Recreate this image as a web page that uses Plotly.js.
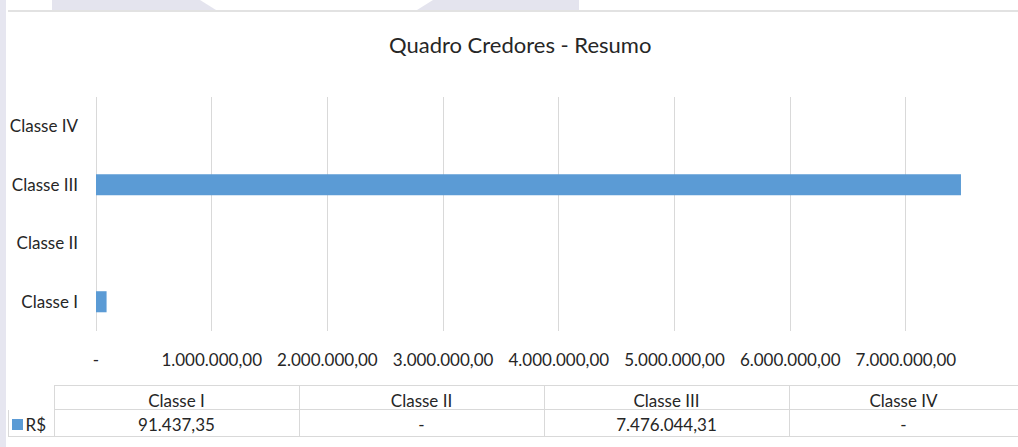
<!DOCTYPE html>
<html>
<head>
<meta charset="utf-8">
<script src="https://cdn.plot.ly/plotly-3.0.1.min.js"></script>
<style>
  body { margin: 0; background: #ffffff; }
  #plot { width: 1018px; height: 447px; }
</style>
</head>
<body>
<div id="plot"></div>
<script>
// Chart data
var categories = ["Classe I", "Classe II", "Classe III", "Classe IV"];
var values = [91437.35, 0, 7476044.31, 0];
var tickValues = [0, 1000000, 2000000, 3000000, 4000000, 5000000, 6000000, 7000000];
var seriesName = "R$";

var barColor = "#5b9bd5";
var textColor = "#262626";
var gridColor = "#d9d9d9";
var fontFamily = "Lato, 'Open Sans', sans-serif";

// Excel style accounting format: 1.234,56 and "-" for zero
function fmt(v) {
    if (v === 0) return "-";
    var parts = v.toFixed(2).split(".");
    var intPart = parts[0].replace(/\B(?=(\d{3})+(?!\d))/g, ".");
    return intPart + "," + parts[1];
}

// page pixels -> paper coords (margins l=8, t=97, b=9)
var ML = 8, MT = 97, PW = 1010, PH = 341;
function px(x) { return (x - ML) / PW; }
function py(y) { return 1 - (y - MT) / PH; }

// Bar trace
var trace1 = {
    type: "bar",
    orientation: "h",
    x: values,
    y: categories,
    name: seriesName,
    marker: { color: barColor },
    hoverinfo: "skip",
    showlegend: false
};

// Data table under the chart
var headerValues = [""].concat(categories);
var cellValues = [[seriesName]];
values.forEach(function (v) { cellValues.push([fmt(v)]); });

var trace2 = {
    type: "table",
    domain: { x: [0, 1], y: [0, 0.1525] },
    columnwidth: [46, 245, 245, 245, 229],
    header: {
        values: headerValues,
        height: 24,
        align: "center",
        fill: { color: "#ffffff" },
        line: { color: gridColor, width: [0, 1, 1, 1, 1] },
        font: { family: fontFamily, size: 17, color: textColor }
    },
    cells: {
        values: cellValues,
        height: 27,
        align: ["right", "center", "center", "center", "center"],
        fill: { color: "#ffffff" },
        line: { color: gridColor, width: 1 },
        font: { family: fontFamily, size: 17, color: textColor }
    }
};

// background decoration + legend key in the table
var shapes = [
    { type: "rect", xref: "paper", yref: "paper", layer: "below",
      x0: px(0), x1: px(6), y0: py(0), y1: py(447),
      fillcolor: "#e6e6f0", line: { width: 0 } },
    { type: "path", xref: "paper", yref: "paper", layer: "below",
      path: "M " + px(52) + "," + py(10) + " L " + px(52) + "," + py(0) +
            " L " + px(200) + "," + py(0) + " L " + px(216) + "," + py(10) + " Z",
      fillcolor: "#e4e4ee", line: { width: 0 } },
    { type: "path", xref: "paper", yref: "paper", layer: "below",
      path: "M " + px(417) + "," + py(10) + " L " + px(433) + "," + py(0) +
            " L " + px(579) + "," + py(0) + " L " + px(579) + "," + py(10) + " Z",
      fillcolor: "#e4e4ee", line: { width: 0 } },
    { type: "line", xref: "paper", yref: "paper",
      x0: px(8), x1: px(1018), y0: py(11), y1: py(11),
      line: { color: gridColor, width: 1.5 } },
    { type: "rect", xref: "paper", yref: "paper",
      x0: px(12), x1: px(23), y0: py(419), y1: py(430),
      fillcolor: barColor, line: { width: 0 } }
];

var layout = {
    width: 1018,
    height: 447,
    margin: { l: ML, r: 0, t: MT, b: 9 },
    paper_bgcolor: "#ffffff",
    plot_bgcolor: "#ffffff",
    font: { family: fontFamily, color: textColor, size: 17 },
    title: {
        text: "Quadro Credores - Resumo",
        font: { family: fontFamily, size: 22, color: textColor },
        x: 0.511,
        xanchor: "center",
        y: 0.899,
        yanchor: "middle"
    },
    bargap: 0.64,
    xaxis: {
        domain: [px(96), 1],
        range: [0, 7969000],
        tickvals: tickValues,
        ticktext: tickValues.map(fmt),
        showgrid: true,
        gridcolor: gridColor,
        zeroline: true,
        zerolinecolor: gridColor,
        showline: false,
        ticks: "",
        ticklabelstandoff: 17,
        tickfont: { family: fontFamily, size: 17, color: textColor },
        fixedrange: true
    },
    yaxis: {
        domain: [py(331), 1],
        type: "category",
        showgrid: false,
        zeroline: false,
        showline: false,
        ticks: "",
        ticklabelstandoff: 17,
        tickfont: { family: fontFamily, size: 17, color: textColor },
        fixedrange: true
    },
    shapes: shapes,
    showlegend: false
};

Plotly.newPlot("plot", [trace1, trace2], layout, { displayModeBar: false, staticPlot: true });
</script>
</body>
</html>
